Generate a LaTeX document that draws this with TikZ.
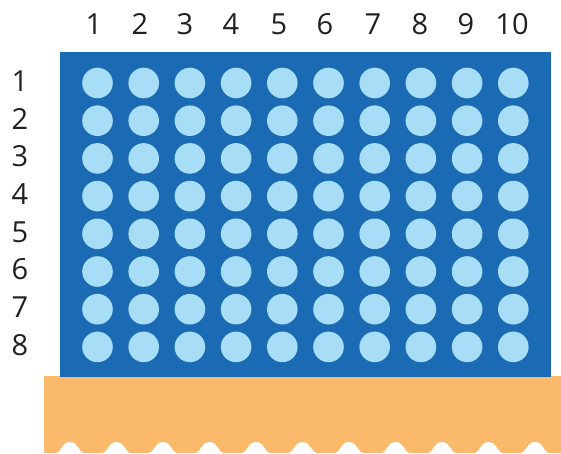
\documentclass[tikz,border=0pt]{standalone}
\usepackage{fontspec}
\setmainfont{Open Sans}
\definecolor{boardblue}{HTML}{1A6BB3}
\definecolor{holeblue}{HTML}{A8DDF7}
\definecolor{baseorange}{HTML}{FAB96B}
\definecolor{labelgray}{HTML}{231F20}
\begin{document}
\begin{tikzpicture}[x=1pt,y=1pt,
  hole/.style={circle,fill=holeblue,inner sep=0pt,minimum size=30.6pt},
  lbl/.style={font=\fontsize{29}{29}\selectfont,text=labelgray,inner sep=0pt},
  bump/.style={fill=white}]
\useasboundingbox (0,0) rectangle (561,453);
% base
\fill[baseorange] (44,0) rectangle (561,77);
\foreach \k in {0,...,10}{
  \pgfmathsetmacro{\c}{70+46.5*\k}
  \fill[white] (\c-15,-0.5) .. controls (\c-8.5,-0.5) and (\c-9,11) .. (\c,11)
     .. controls (\c+9,11) and (\c+8.5,-0.5) .. (\c+15,-0.5) -- cycle;
}
% board
\node[fill=boardblue,inner sep=0pt,minimum width=491pt,minimum height=325pt,anchor=south west] (board) at (60,76) {};
\foreach \i in {1,...,10}{
  \foreach \j in {1,...,8}{
    \node[hole] (c-\i-\j) at ({97.5+46.2*(\i-1)},{453-83-37.7*(\j-1)}) {};
  }
}
\foreach \i/\x in {1/94,2/140,3/185,4/231,5/279,6/325,7/373,8/420,9/466,10/512}{
  \node[lbl] (col-\i) at (\x,429) {\i};
}
\foreach \j in {1,...,8}{
  \node[lbl] (row-\j) at (20,{453-81-37.7*(\j-1)}) {\j};
}
\end{tikzpicture}
\end{document}
